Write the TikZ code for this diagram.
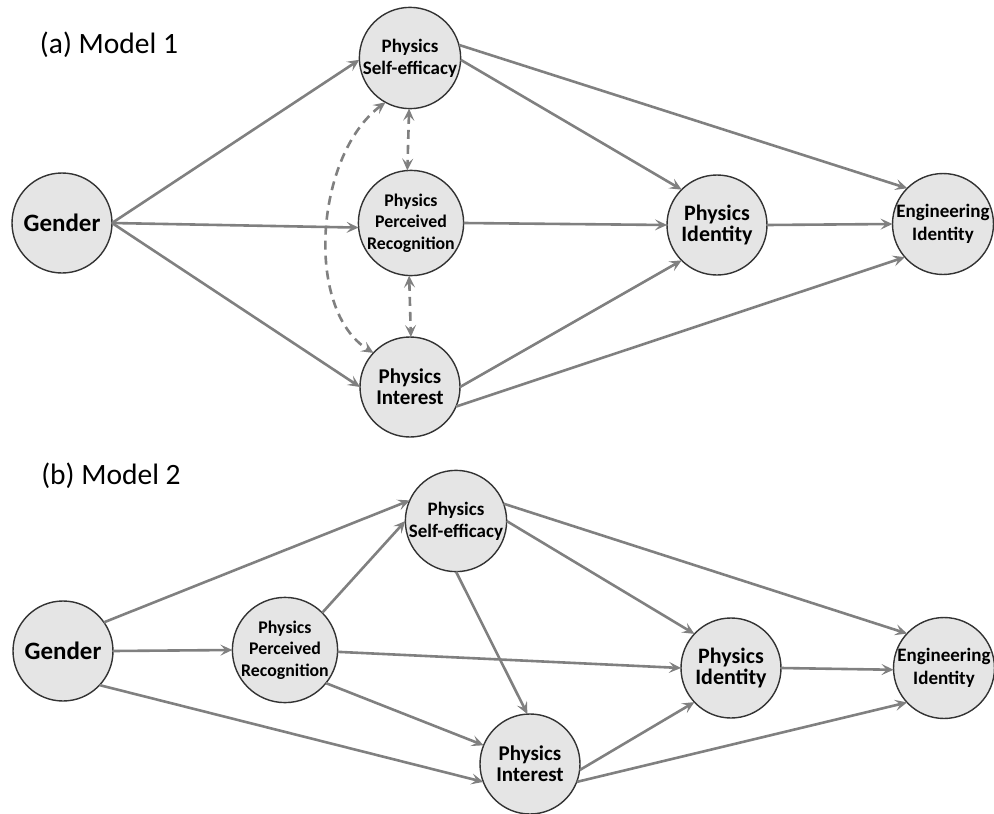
\documentclass[tikz,border=0pt]{standalone}
\usepackage{fontspec}
\setmainfont{Carlito}
\usetikzlibrary{arrows.meta}
\tikzset{
  var/.style={circle, draw=black!80, line width=1.4pt, fill=black!10,
    minimum size=100pt, inner sep=0pt, outer sep=0pt, align=center},
  fgen/.style={font=\fontsize{25}{28}\selectfont\bfseries},
  fbig/.style={font=\fontsize{21}{21}\selectfont\bfseries},
  fpi/.style={font=\fontsize{22}{21.5}\selectfont\bfseries},
  fse/.style={font=\fontsize{19}{22}\selectfont\bfseries},
  fpr/.style={font=\fontsize{17.8}{21.5}\selectfont\bfseries},
  fei/.style={font=\fontsize{19}{23}\selectfont\bfseries},
  ttl/.style={font=\fontsize{29.5}{32}\selectfont},
  conn/.style={draw=black!50, line width=2.6pt, -{Stealth[length=12pt,width=11pt,inset=5pt]}},
  corr/.style={draw=black!50, line width=2.6pt, dash pattern=on 9pt off 6pt,
    {Stealth[length=12pt,width=11pt,inset=5pt]}-{Stealth[length=12pt,width=11pt,inset=5pt]}}
}
\begin{document}
\begin{tikzpicture}[x=1pt,y=-1pt]
\useasboundingbox (0,0) rectangle (994,814);
% ---------- (a) Model 1 ----------
\node[ttl] (ta) at (109,45) {(a) Model 1};
\node[var,fgen] (aG)  at (62,223)  {Gender};
\node[var,fse]  (aSE) at (410,58)  {Physics\\Self-efficacy};
\node[var,fpr]  (aPR) at (411,223) {Physics\\Perceived\\Recognition};
\node[var,fbig] (aIN) at (410,387) {Physics\\Interest};
\node[var,fpi]  (aPI) at (717,225) {Physics\\Identity};
\node[var,fei]  (aEI) at (943,224) {Engineering\\Identity};

\draw[conn] (aG.east) -- (aSE.182);
\draw[conn] (aG.east) -- (aPR.185);
\draw[conn] (aG.east) -- (aIN.west);
\draw[conn] (aSE.-2) -- (aPI.135);
\draw[conn] (aSE.15) -- (aEI.135);
\draw[conn] (aPR.east) -- (aPI.west);
\draw[conn] (aPI.east) -- (aEI.west);
\draw[conn] (aIN.0) -- (aPI.225);
\draw[conn] (aIN.-23) -- (aEI.221);

\draw[corr] (aSE.269) -- (aPR.94);
\draw[corr] (aPR.268) -- (aIN.89);
\draw[corr] (aSE.241) .. controls (315,155) and (304,310) .. (aIN.137);

% ---------- (b) Model 2 ----------
\node[ttl] (tb) at (111,476) {(b) Model 2};
\node[var,fgen] (bG)  at (63,651)  {Gender};
\node[var,fse]  (bSE) at (456,521) {Physics\\Self-efficacy};
\node[var,fpr]  (bPR) at (285,650) {Physics\\Perceived\\Recognition};
\node[var,fbig] (bIN) at (530,764) {Physics\\Interest};
\node[var,fpi]  (bPI) at (731,668) {Physics\\Identity};
\node[var,fei]  (bEI) at (944,668) {Engineering\\Identity};

\draw[conn] (bG.35) -- (bSE.156);
\draw[conn] (bG.east) -- (bPR.west);
\draw[conn] (bG.-43) -- (bIN.201);
\draw[conn] (bPR.45) -- (bSE.180);
\draw[conn] (bPR.-2) -- (bPI.west);
\draw[conn] (bPR.-39) -- (bIN.158);
\draw[conn] (bSE.south) -- (bIN.93);
\draw[conn] (bSE.0) -- (bPI.137);
\draw[conn] (bSE.20) -- (bEI.137);
\draw[conn] (bPI.east) -- (bEI.182);
\draw[conn] (bIN.-7) -- (bPI.223);
\draw[conn] (bIN.-21) -- (bEI.223);
\end{tikzpicture}
\end{document}
